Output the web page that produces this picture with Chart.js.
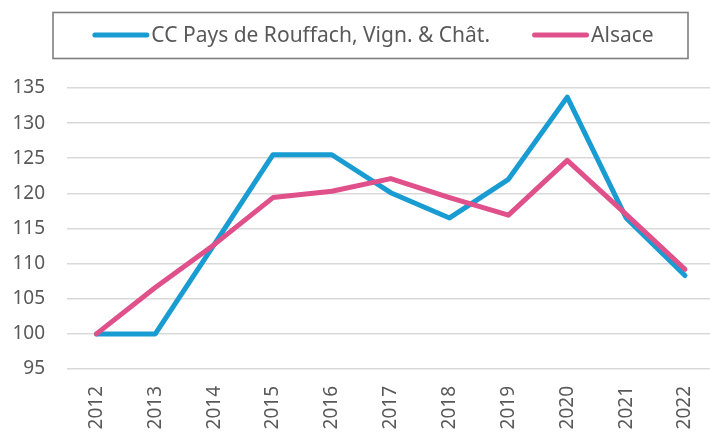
<!DOCTYPE html>
<html>
<head>
<meta charset="utf-8">
<script src="https://cdn.jsdelivr.net/npm/chart.js@4.4.0/dist/chart.umd.min.js"></script>
<style>
    html, body { margin: 0; padding: 0; background: #fff; overflow: hidden; }
    #wrap { width: 725px; height: 434px; }
</style>
</head>
<body>
<div id="wrap"><canvas id="indexChart"></canvas></div>
<script>
// Data (base 100 in 2012)
const years = ['2012', '2013', '2014', '2015', '2016', '2017', '2018', '2019', '2020', '2021', '2022'];
const rouffachLabel = 'CC Pays de Rouffach, Vign. & Chât.';
const rouffachValues = [100, 100, 112.7, 125.5, 125.5, 120.1, 116.5, 122.0, 133.7, 116.5, 108.3];
const alsaceLabel = 'Alsace';
const alsaceValues = [100, 106.6, 112.7, 119.4, 120.3, 122.1, 119.4, 116.9, 124.7, 117.0, 109.2];
const yMin = 95;
const yMax = 135;
const yStep = 5;

const FONT = '"Noto Sans", "Open Sans", sans-serif';
const TEXT_COLOR = '#595959';

// Legend drawn in a framed box like the Excel original
const framedLegend = {
    id: 'framedLegend',
    afterDraw(chart) {
        const ctx = chart.ctx;
        const sets = chart.data.datasets;
        const sampleW = 57, gapText = 2, gapItem = 42;
        ctx.save();
        ctx.font = '21px ' + FONT;
        ctx.textBaseline = 'middle';

        let total = 0;
        sets.forEach((ds, i) => {
            total += sampleW + gapText + ctx.measureText(ds.label).width;
            if (i < sets.length - 1) total += gapItem;
        });

        const cx = 373, cy = 35;
        ctx.strokeStyle = '#7f7f7f';
        ctx.lineWidth = 1.6;
        ctx.strokeRect(53, 12.5, 635, 46);

        let x = cx - total / 2;
        sets.forEach(ds => {
            ctx.strokeStyle = ds.borderColor;
            ctx.lineWidth = 5;
            ctx.lineCap = 'round';
            ctx.beginPath();
            ctx.moveTo(x + 2.5, cy);
            ctx.lineTo(x + sampleW - 2.5, cy);
            ctx.stroke();
            x += sampleW + gapText;
            ctx.fillStyle = TEXT_COLOR;
            ctx.fillText(ds.label, x, cy + 1);
            x += ctx.measureText(ds.label).width + gapItem;
        });
        ctx.restore();
    }
};

const ctx = document.getElementById('indexChart');

new Chart(ctx, {
    type: 'line',
    data: {
        labels: years,
        datasets: [{
            label: rouffachLabel,
            data: rouffachValues,
            borderColor: '#189cd2',
            backgroundColor: '#189cd2',
            borderWidth: 5,
            borderJoinStyle: 'round',
            borderCapStyle: 'round',
            pointRadius: 0,
            tension: 0,
            order: 1
        }, {
            label: alsaceLabel,
            data: alsaceValues,
            borderColor: '#e0508a',
            backgroundColor: '#e0508a',
            borderWidth: 5,
            borderJoinStyle: 'round',
            borderCapStyle: 'round',
            pointRadius: 0,
            tension: 0,
            order: 0
        }]
    },
    options: {
        responsive: true,
        maintainAspectRatio: false,
        animation: false,
        layout: { padding: { top: 88, right: 5, bottom: 0, left: 0 } },
        plugins: {
            legend: { display: false },
            tooltip: { enabled: false }
        },
        scales: {
            x: {
                offset: true,
                grid: { display: false, drawTicks: false },
                border: { display: false },
                ticks: {
                    color: TEXT_COLOR,
                    font: { family: FONT, size: 19 },
                    minRotation: 90,
                    maxRotation: 90,
                    padding: 17
                },
                afterFit(scale) { scale.height = 65; }
            },
            y: {
                min: yMin,
                max: yMax,
                ticks: {
                    stepSize: yStep,
                    color: TEXT_COLOR,
                    font: { family: FONT, size: 19 },
                    padding: 22
                },
                grid: { color: '#d9d9d9', lineWidth: 1.6, drawTicks: false },
                border: { display: false },
                afterFit(scale) { scale.width = 67; }
            }
        }
    },
    plugins: [framedLegend]
});
</script>
</body>
</html>
